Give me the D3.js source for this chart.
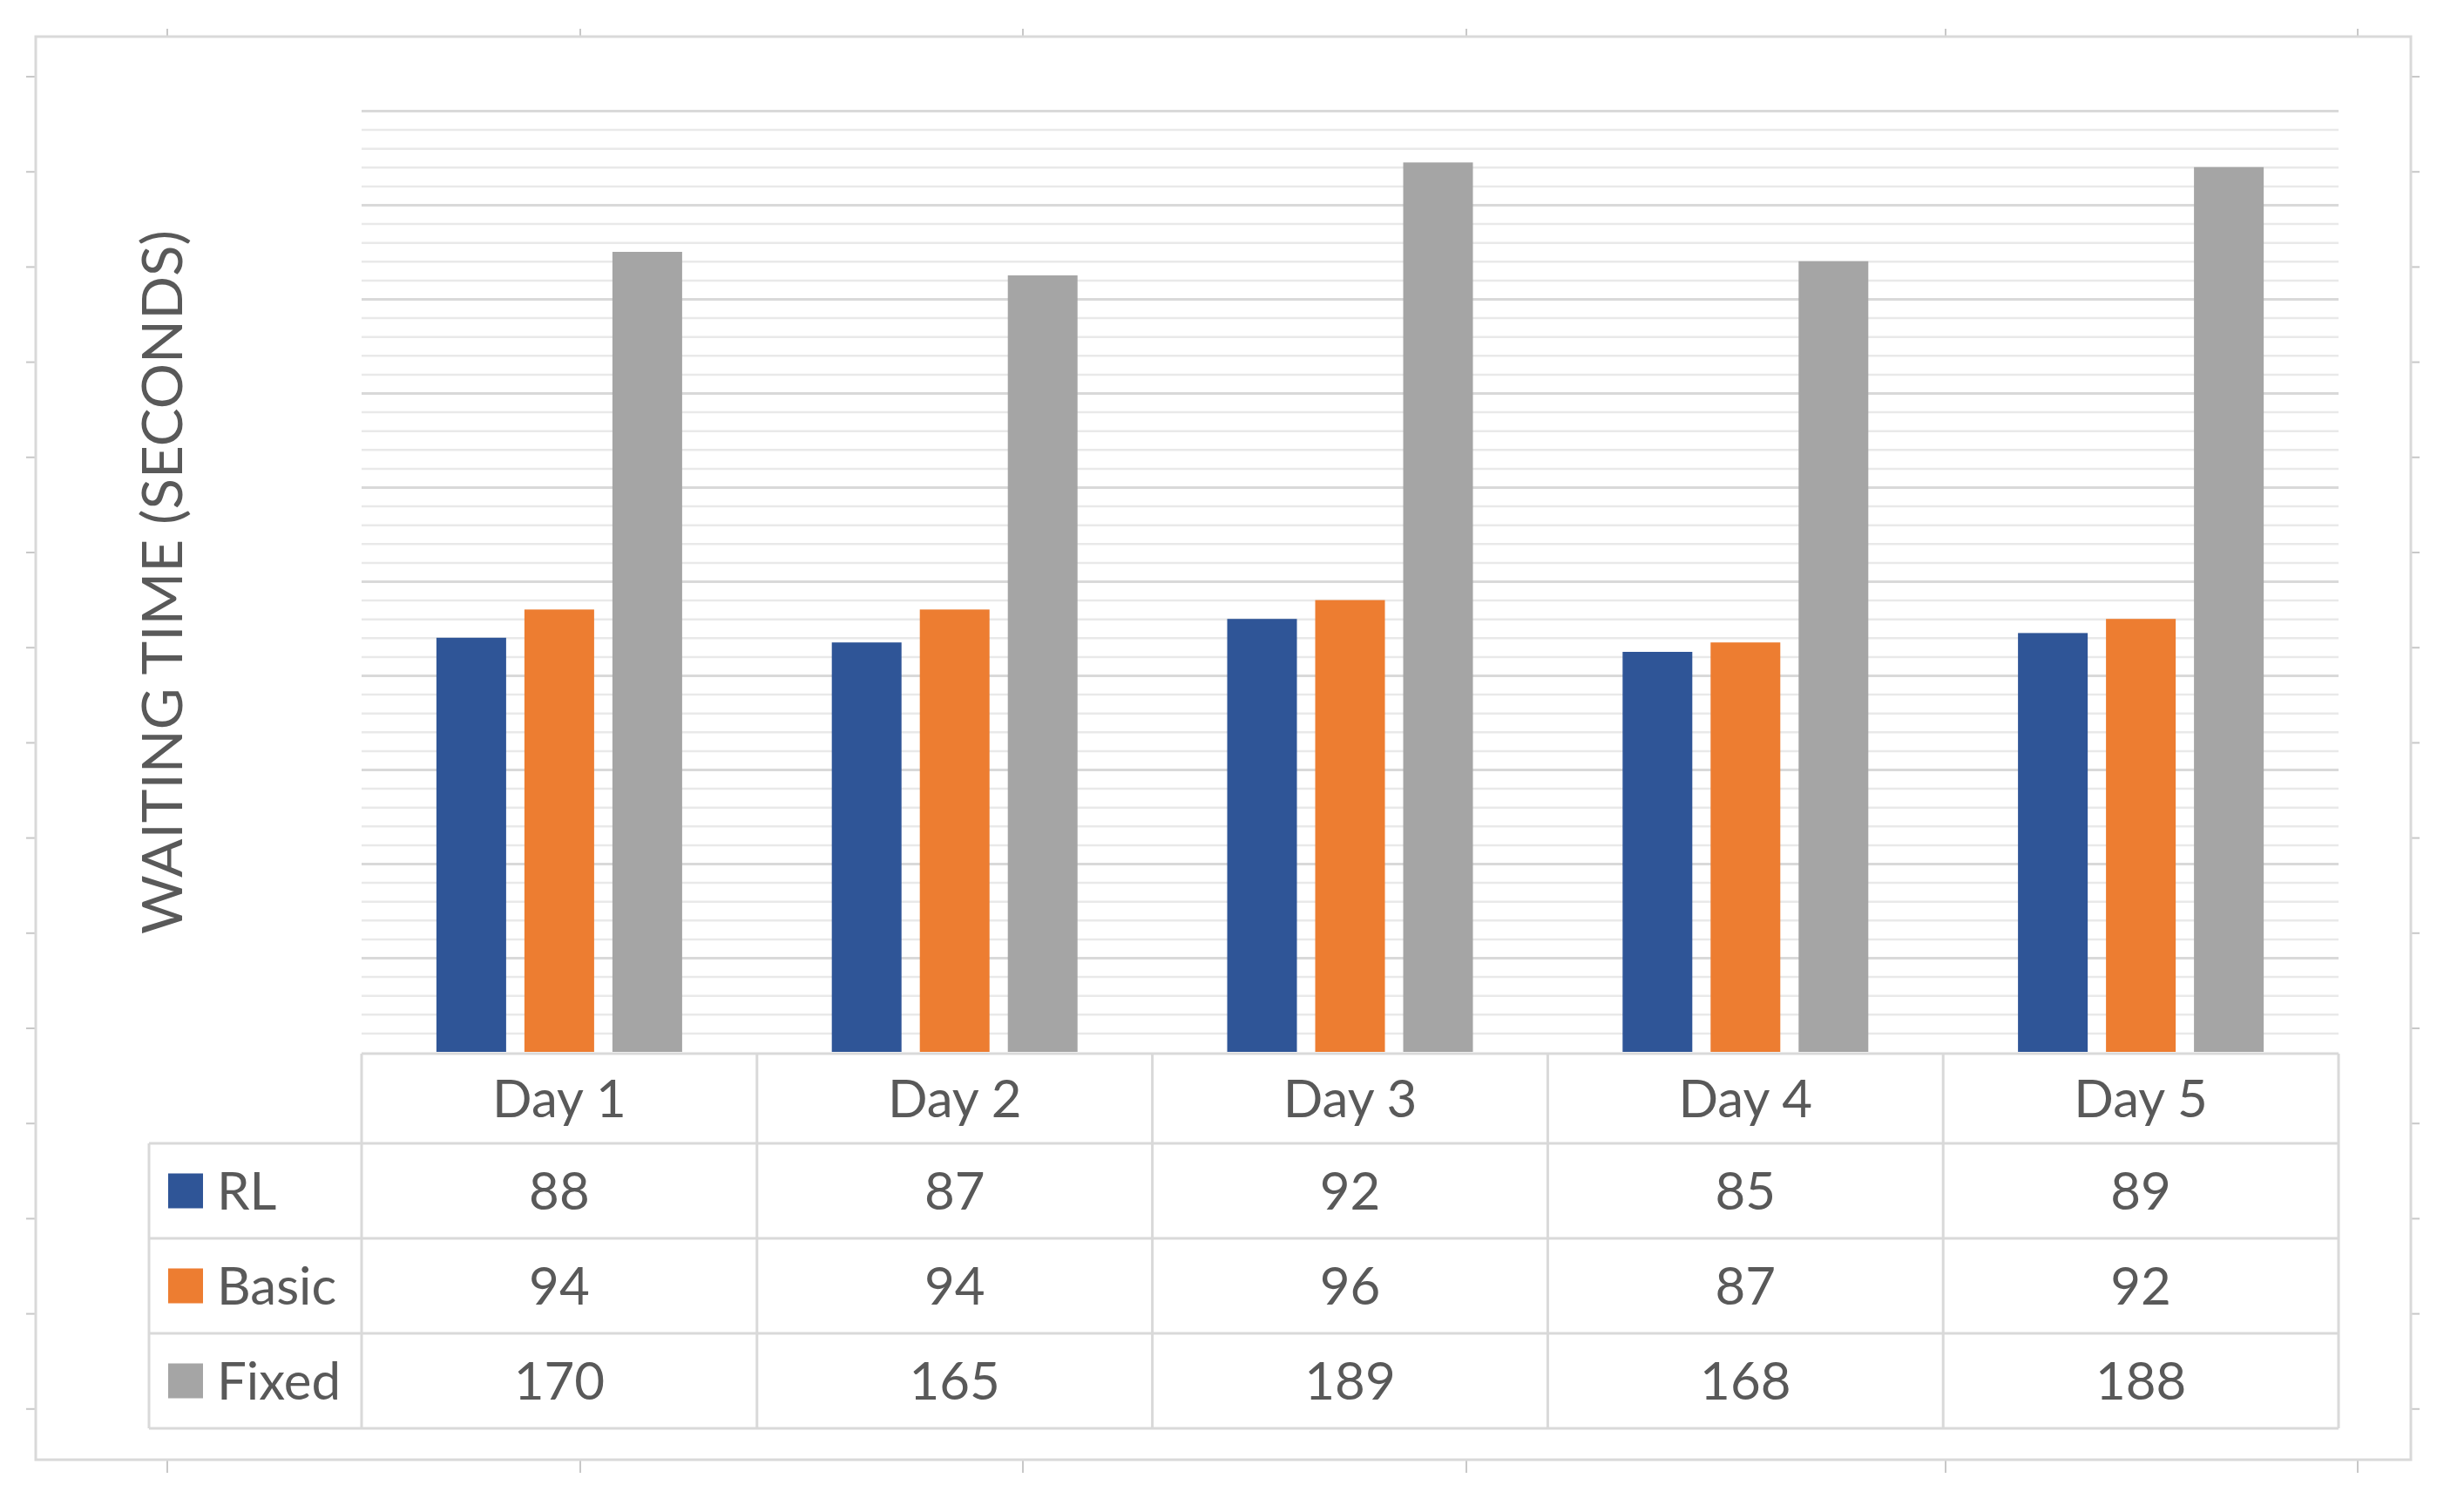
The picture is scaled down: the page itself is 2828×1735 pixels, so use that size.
<!DOCTYPE html>
<html>
<head>
<meta charset="utf-8">
<script src="https://cdn.jsdelivr.net/npm/d3@7/dist/d3.min.js"></script>
<style>
  html, body { margin: 0; padding: 0; background: #ffffff; }
  svg { display: block; }
</style>
</head>
<body>
<svg id="chart" width="2828" height="1735"></svg>
<script>
// ---------------- data ----------------
const categories = ["Day 1", "Day 2", "Day 3", "Day 4", "Day 5"];
const seriesNames = ["RL", "Basic", "Fixed"];
const rlValues    = [88, 87, 92, 85, 89];
const basicValues = [94, 94, 96, 87, 92];
const fixedValues = [170, 165, 189, 168, 188];
const seriesColors = ["#2F5597", "#ED7D31", "#A5A5A5"];
const yAxisTitle = "WAITING TIME (SECONDS)";
const yMax = 200, majorStep = 20, minorStep = 4;

const seriesValues = [rlValues, basicValues, fixedValues];

// ---------------- layout ----------------
const W = 2828, H = 1735;
const frame = {x0: 41, y0: 42, x1: 2767, y1: 1675};
const plot = {left: 415, right: 2684, top: 127, bottom: 1207};
const table = {left: 171, top: 1209, rows: [1312, 1421, 1530, 1639]};
const textColor = "#595959";
const gridMajor = "#D9D9D9", gridMinor = "#E9E9E9", lineColor = "#D9D9D9";
const fontFamily = "Lato, 'Open Sans', 'DejaVu Sans', sans-serif";

const svg = d3.select("#chart");
svg.append("rect").attr("width", W).attr("height", H).attr("fill", "#fff");

// scales
const x = d3.scaleBand().domain(categories).range([plot.left, plot.right]).padding(0);
const bw = x.bandwidth();
const groupW = 282;
const xs = d3.scaleBand().domain(seriesNames)
  .range([(bw - groupW) / 2, (bw + groupW) / 2])
  .paddingInner(21 / 101).paddingOuter(0);
const y = d3.scaleLinear().domain([0, yMax]).range([plot.bottom, plot.top]);

// frame crop-mark ticks (decoration of the original picture)
const deco = svg.append("g").attr("stroke", "#C8C8C8").attr("stroke-width", 2);
[192, 666, 1174, 1683, 2233, 2706].forEach(tx => {
  deco.append("line").attr("x1", tx).attr("x2", tx).attr("y1", frame.y0 - 9).attr("y2", frame.y0);
  deco.append("line").attr("x1", tx).attr("x2", tx).attr("y1", frame.y1).attr("y2", frame.y1 + 15);
});
d3.range(15).forEach(k => {
  const ty = 88 + k * 109.2;
  deco.append("line").attr("x1", frame.x0 - 11).attr("x2", frame.x0).attr("y1", ty).attr("y2", ty);
  deco.append("line").attr("x1", frame.x1).attr("x2", frame.x1 + 10).attr("y1", ty).attr("y2", ty);
});

// outer frame
svg.append("rect")
  .attr("x", frame.x0).attr("y", frame.y0)
  .attr("width", frame.x1 - frame.x0).attr("height", frame.y1 - frame.y0)
  .attr("fill", "none").attr("stroke", "#D9D9D9").attr("stroke-width", 3);

// gridlines
const minorTicks = d3.range(0, yMax + 0.001, minorStep).filter(v => v % majorStep !== 0);
const majorTicks = d3.range(0, yMax + 0.001, majorStep).filter(v => v > 0);
svg.append("g").attr("class", "minor-grid")
  .call(d3.axisLeft(y).tickValues(minorTicks).tickSize(-(plot.right - plot.left)).tickFormat(""))
  .attr("transform", `translate(${plot.left},0)`)
  .call(g => g.select(".domain").remove())
  .call(g => g.selectAll("line").attr("stroke", gridMinor).attr("stroke-width", 2.5));
svg.append("g").attr("class", "major-grid")
  .call(d3.axisLeft(y).tickValues(majorTicks).tickSize(-(plot.right - plot.left)).tickFormat(""))
  .attr("transform", `translate(${plot.left},0)`)
  .call(g => g.select(".domain").remove())
  .call(g => g.selectAll("line").attr("stroke", gridMajor).attr("stroke-width", 3));

// bars
const barData = [];
categories.forEach((c, i) => seriesNames.forEach((s, j) =>
  barData.push({cat: c, series: s, value: seriesValues[j][i], color: seriesColors[j]})));
svg.append("g").selectAll("rect").data(barData).join("rect")
  .attr("x", d => x(d.cat) + xs(d.series))
  .attr("width", xs.bandwidth())
  .attr("y", d => y(d.value))
  .attr("height", d => y(0) - y(d.value))
  .attr("fill", d => d.color);

// y-axis title
svg.append("text")
  .attr("transform", `translate(209,668) rotate(-90)`)
  .attr("text-anchor", "middle")
  .attr("font-family", fontFamily)
  .attr("font-size", 64)
  .attr("fill", textColor)
  .attr("textLength", 808)
  .attr("lengthAdjust", "spacingAndGlyphs")
  .text(yAxisTitle);

// data table
const tg = svg.append("g").attr("stroke", lineColor).attr("stroke-width", 3).attr("fill", "none");
tg.append("line").attr("x1", plot.left).attr("x2", plot.right).attr("y1", table.top).attr("y2", table.top);
table.rows.forEach(ry => tg.append("line").attr("x1", table.left).attr("x2", plot.right).attr("y1", ry).attr("y2", ry));
const colEdges = categories.map(c => x(c)).concat([plot.right]);
colEdges.forEach(cx => tg.append("line").attr("x1", cx).attr("x2", cx).attr("y1", table.top).attr("y2", table.rows[3]));
tg.append("line").attr("x1", table.left).attr("x2", table.left).attr("y1", table.rows[0]).attr("y2", table.rows[3]);

const fs = 60, capOff = fs * 0.36;
// header
svg.append("g").selectAll("text").data(categories).join("text")
  .attr("x", d => x(d) + bw / 2)
  .attr("y", (table.top + table.rows[0]) / 2 + capOff)
  .attr("text-anchor", "middle")
  .attr("font-family", fontFamily).attr("font-size", fs).attr("fill", textColor)
  .text(d => d);

// rows
seriesNames.forEach((s, j) => {
  const r0 = table.rows[j], r1 = table.rows[j + 1], cy = (r0 + r1) / 2;
  svg.append("rect").attr("x", 193).attr("y", cy - 20).attr("width", 40).attr("height", 40)
    .attr("fill", seriesColors[j]);
  svg.append("text").attr("x", 249).attr("y", cy + capOff)
    .attr("font-family", fontFamily).attr("font-size", fs).attr("fill", textColor)
    .text(s);
  svg.append("g").selectAll("text").data(seriesValues[j]).join("text")
    .attr("x", (d, i) => x(categories[i]) + bw / 2)
    .attr("y", cy + capOff)
    .attr("text-anchor", "middle")
    .attr("font-family", fontFamily).attr("font-size", fs).attr("fill", textColor)
    .text(d => d);
});
</script>
</body>
</html>
